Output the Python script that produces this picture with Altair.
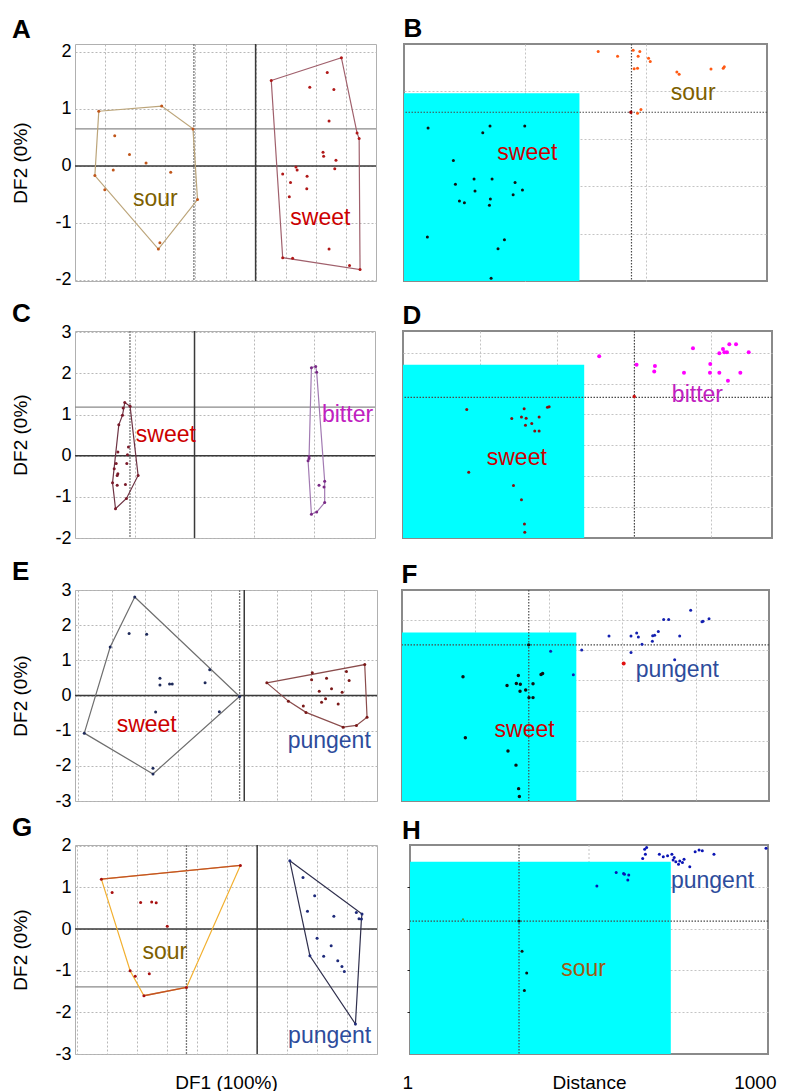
import altair as alt
import pandas as pd

FONT = "Liberation Sans"

# ================= DATA =================
# ---- A : DF1/DF2 plot, sour vs sweet ----
A_sour_hull_x = [-5.21, -3.12, -2.08, -1.93, -3.23, -5.34]
A_sour_hull_y = [0.96, 1.05, 0.65, -0.59, -1.46, -0.17]
A_sour_x = [-4.68, -4.19, -3.64, -4.73, -2.82, -5.01, -3.18]
A_sour_y = [0.53, 0.20, 0.05, -0.07, -0.11, -0.42, -1.35]
A_sweet_hull_x = [0.52, 2.85, 3.37, 3.44, 3.47, 0.90]
A_sweet_hull_y = [1.50, 1.90, 0.58, 0.48, -1.82, -1.61]
A_sweet_x = [2.38, 1.80, 2.60, 2.44, 2.24, 2.26, 2.67, 2.63, 1.34, 1.38, 0.90, 1.71, 1.16, 1.70, 1.12, 2.44, 1.23, 3.12]
A_sweet_y = [1.64, 1.38, 1.34, 0.79, 0.24, 0.17, 0.10, -0.05, -0.02, -0.07, -0.14, -0.18, -0.29, -0.40, -0.54, -1.46, -1.62, -1.75]
A_label_text = ["sour", "sweet"]
A_label_x = [-3.33, 2.15]
A_label_y = [-0.58, -0.92]
A_thr_x, A_thr_y = [-2.05], [0.65]

# ---- C : sweet vs bitter ----
C_sweet_hull_x = [-1.167, -1.078, -0.944, -1.139, -1.322, -1.372, -1.267, -1.206]
C_sweet_hull_y = [1.29, 1.20, -0.48, -1.04, -1.29, -0.66, 0.75, 0.98]
C_sweet_x = [-1.194, -1.283, -1.106, -1.122, -1.311, -1.344, -1.283, -1.294, -1.133, -1.294, -1.156]
C_sweet_y = [1.16, 0.09, 0.21, 0.02, -0.19, -0.32, -0.44, -0.48, -0.19, -0.72, -0.70]
C_bitter_hull_x = [1.956, 2.028, 2.044, 2.178, 2.178, 2.044, 1.956, 1.900, 1.917]
C_bitter_hull_y = [2.14, 2.17, 2.03, -0.62, -1.14, -1.37, -1.42, -0.12, -0.02]
C_bitter_x = [2.083, 2.167, 1.917]
C_bitter_y = [-0.72, -0.76, -0.07]
C_label_text = ["sweet", "bitter"]
C_label_x = [-0.48, 2.56]
C_label_y = [0.51, 0.98]
C_thr_x, C_thr_y = [-1.08], [1.18]

# ---- E : sweet vs pungent ----
E_sweet_hull_x = [-3.30, -0.14, -2.75, -4.82, -4.04]
E_sweet_hull_y = [2.80, -0.03, -2.23, -1.07, 1.38]
E_sweet_x = [-3.47, -2.94, -1.04, -2.54, -2.54, -2.25, -2.17, -1.18, -2.67, -0.75, -2.75]
E_sweet_y = [1.76, 1.74, 0.73, 0.49, 0.30, 0.33, 0.33, 0.36, -0.47, -0.46, -2.07]
E_pung_hull_x = [0.68, 3.63, 3.70, 3.38, 2.98, 1.86, 1.33]
E_pung_hull_y = [0.36, 0.88, -0.62, -0.85, -0.90, -0.48, -0.16]
E_pung_x = [2.05, 2.03, 2.48, 3.08, 3.16, 2.63, 2.26, 2.95, 2.45, 2.33, 2.83, 1.78]
E_pung_y = [0.65, 0.45, 0.49, 0.68, 0.43, 0.19, 0.12, 0.09, -0.09, -0.19, -0.24, -0.30]
E_label_text = ["sweet", "pungent"]
E_label_x = [-2.94, 2.56]
E_label_y = [-0.85, -1.28]
E_thr_x, E_thr_y = [-0.14], []

# ---- G : sour vs pungent ----
G_sour_hull_x = [-5.20, -0.56, -2.36, -3.78, -4.24]
G_sour_hull_y = [1.20, 1.53, -1.40, -1.60, -1.00]
G_sour_x = [-4.84, -3.89, -3.52, -3.37, -3.00, -4.07, -3.60]
G_sour_y = [0.88, 0.64, 0.65, 0.63, 0.07, -1.13, -1.07]
G_pung_hull_x = [1.09, 3.50, 3.48, 3.28, 1.76]
G_pung_hull_y = [1.64, 0.36, 0.24, -2.28, -0.64]
G_pung_x = [1.53, 1.92, 1.68, 2.56, 3.31, 3.40, 2.00, 2.47, 2.22, 2.69, 2.83, 2.91]
G_pung_y = [1.24, 0.80, 0.43, 0.31, 0.40, 0.25, -0.22, -0.40, -0.65, -0.76, -0.90, -1.02]
G_label_text = ["sour", "pungent"]
G_label_x = [-3.08, 2.42]
G_label_y = [-0.56, -2.57]
G_thr_x, G_thr_y = [-2.36], [-1.39]

# ---- B : distance plot, sweet vs sour ----
B_sour_x = [1.605, 1.765, 1.894, 1.949, 1.935, 1.902, 1.930, 2.021, 2.035, 2.255, 2.274, 2.537, 2.638, 2.647, 1.930, 1.958]
B_sour_y = [4.84, 4.74, 4.87, 4.84, 4.74, 4.48, 4.49, 4.70, 4.63, 4.41, 4.36, 4.47, 4.49, 4.52, 3.54, 3.62]
B_ref_x, B_ref_y = [1.875], [3.56]
B_sweet_x = [0.199, 0.711, 0.998, 0.651, 0.408, 0.579, 0.728, 0.918, 0.425, 0.587, 0.979, 0.902, 0.714, 0.458, 0.499, 0.706, 0.193, 0.830, 0.777, 0.720]
B_sweet_y = [3.23, 3.27, 3.27, 3.13, 2.54, 2.15, 2.15, 2.08, 2.04, 1.90, 1.92, 1.82, 1.73, 1.69, 1.65, 1.60, 0.93, 0.87, 0.68, 0.06]
B_cyan = [0.0, 1.45, 0.0, 3.96]
B_label_text = ["sweet", "sour"]
B_label_x = [1.02, 2.39]
B_label_y = [2.70, 3.97]
B_thr_x, B_thr_y = [1.88], [3.56]

# ---- D : sweet vs bitter ----
D_bitter_x = [2.552, 3.038, 3.277, 3.268, 3.772, 4.162, 4.245, 4.332, 4.115, 4.180, 4.214, 4.497, 3.997, 3.655, 3.993, 4.115, 4.388, 4.227]
D_bitter_y = [5.88, 5.61, 5.57, 5.39, 6.14, 6.12, 6.27, 6.27, 5.98, 6.01, 6.01, 6.01, 5.63, 5.35, 5.35, 5.35, 5.35, 5.09]
D_ref_x, D_ref_y = [3.008], [4.58]
D_sweet_x = [0.829, 1.576, 1.879, 1.901, 1.415, 1.541, 1.602, 1.771, 1.675, 1.593, 1.714, 1.771, 0.855, 1.437, 1.541, 1.580, 1.584]
D_sweet_y = [4.16, 4.18, 4.23, 4.25, 3.87, 3.92, 3.88, 3.92, 3.71, 3.65, 3.46, 3.46, 2.13, 1.70, 1.24, 0.45, 0.19]
D_cyan = [0.0, 2.357, 0.0, 5.61]
D_label_text = ["sweet", "bitter"]
D_label_x = [1.48, 3.83]
D_label_y = [2.60, 4.64]
D_thr_x, D_thr_y = [3.01], [4.55]

# ---- F : sweet vs pungent ----
F_pung_x = [2.025, 2.448, 2.334, 2.820, 3.120, 3.197, 3.220, 3.120, 3.270, 3.411, 3.415, 3.442, 3.492, 3.565, 3.633, 3.783, 3.715, 3.933, 4.087, 4.101, 4.183]
F_pung_y = [4.97, 5.01, 4.19, 5.47, 5.47, 5.57, 5.44, 4.93, 5.20, 5.30, 5.48, 5.50, 5.62, 6.02, 6.02, 5.47, 4.69, 6.33, 5.95, 5.96, 6.05]
F_ref_x, F_ref_y = [3.020], [4.56]
F_sweet_x = [1.726, 0.831, 1.585, 1.431, 1.558, 1.612, 1.785, 1.894, 1.916, 1.685, 1.608, 1.730, 1.785, 0.863, 1.444, 1.553, 1.589, 1.599]
F_sweet_y = [5.18, 4.12, 4.16, 3.83, 3.90, 3.87, 3.89, 4.20, 4.23, 3.68, 3.64, 3.43, 3.43, 2.10, 1.66, 1.19, 0.41, 0.15]
F_cyan = [0.0, 2.375, 0.0, 5.59]
F_label_text = ["sweet", "pungent"]
F_label_x = [1.67, 3.75]
F_label_y = [2.36, 4.34]
F_thr_x, F_thr_y = [1.727], [5.18]

# ---- H : sour vs pungent ----
H_pung_x = [1.044, 1.152, 1.193, 1.198, 1.222, 1.217, 1.300, 1.315, 1.322, 1.311, 1.393, 1.415, 1.439, 1.463, 1.476, 1.470, 1.485, 1.500, 1.507, 1.531, 1.522, 1.563, 1.593, 1.615, 1.633, 1.698, 1.989]
H_pung_y = [4.02, 4.34, 4.32, 4.30, 4.28, 4.16, 4.68, 4.78, 4.94, 4.90, 4.78, 4.72, 4.74, 4.78, 4.70, 4.64, 4.60, 4.54, 4.62, 4.66, 4.58, 4.48, 4.84, 4.88, 4.86, 4.78, 4.92]
H_sour_x = [0.609, 0.626, 0.652, 0.639]
H_sour_y = [3.18, 2.46, 1.94, 1.52]
H_extra_x, H_extra_y = [0.296], [3.22]
H_cyan = [0.0, 1.457, 0.0, 4.6]
H_label_text = ["pungent", "sour"]
H_label_x = [1.69, 0.97]
H_label_y = [4.14, 2.04]
H_thr_x, H_thr_y = [0.609], [3.18]
H_xtick_values = [0, 2]
H_xtick_labels = ["1", "1000"]

# ================= helpers =================
def sc(dom):
    return alt.Scale(domain=dom, nice=False, zero=False)


def enc_xy(xdom, ydom, xaxis, yaxis):
    return (alt.X("x:Q", scale=sc(xdom), axis=xaxis),
            alt.Y("y:Q", scale=sc(ydom), axis=yaxis))


def points_layer(xs, ys, color, size, X, Y):
    df = pd.DataFrame({"x": xs, "y": ys})
    return alt.Chart(df).mark_circle(size=size, opacity=1, color=color).encode(x=X, y=Y)


def hull_layers(hx, hy, color, X, Y, edges=None, edge_color=None, width=1.2):
    df = pd.DataFrame({"x": hx + hx[:1], "y": hy + hy[:1], "o": list(range(len(hx) + 1))})
    out = [alt.Chart(df).mark_line(color=color, strokeWidth=width).encode(
        x=X, y=Y, order="o:Q")]
    for a, b in (edges or []):
        sdf = pd.DataFrame({"x": [hx[a], hx[b]], "y": [hy[a], hy[b]], "o": [0, 1]})
        out.append(alt.Chart(sdf).mark_line(color=edge_color, strokeWidth=1.4).encode(
            x=X, y=Y, order="o:Q"))
    return out


def labels_layer(texts, xs, ys, colors, X, Y):
    out = []
    for t, x, y, c in zip(texts, xs, ys, colors):
        df = pd.DataFrame({"x": [x], "y": [y], "t": [t]})
        out.append(alt.Chart(df).mark_text(font=FONT, fontSize=23, color=c).encode(
            x=X, y=Y, text="t:N"))
    return out


def rules(xs, ys, color, dash, width, X, Y):
    out = []
    if xs:
        out.append(alt.Chart(pd.DataFrame({"x": xs})).mark_rule(
            color=color, strokeDash=dash, strokeWidth=width).encode(x=X))
    if ys:
        out.append(alt.Chart(pd.DataFrame({"y": ys})).mark_rule(
            color=color, strokeDash=dash, strokeWidth=width).encode(y=Y))
    return out


def title(letter, dy):
    return alt.TitleParams(text=letter, anchor="start", fontSize=26, font=FONT,
                           fontWeight="bold", color="black", offset=0, dy=dy)


TPAD = 24


def left_panel(letter, xdom, ydom, xgrid, yticks, groups, labels, thr, w, h, tdy,
               xtitle=None):
    xaxis = alt.Axis(values=xgrid, labels=False, ticks=False, tickSize=0, domain=False,
                     grid=True, gridDash=[2, 2], gridColor="#b8b8b8",
                     title=xtitle, titleFont=FONT, titleFontSize=19,
                     titleFontWeight="normal", titleColor="black",
                     titleBaseline="top", titleY=19)
    yaxis = alt.Axis(values=yticks, labelExpr="datum.value + ''", labelFont=FONT,
                     labelFontSize=18, labelColor="black", labelPadding=4,
                     ticks=False, domain=False, grid=True, gridDash=[2, 2],
                     gridColor="#b8b8b8", title="DF2 (0%)", titleFont=FONT,
                     titleFontSize=19, titleFontWeight="normal", titleColor="black",
                     titlePadding=TPAD)
    X, Y = enc_xy(xdom, ydom, xaxis, yaxis)
    layers = []
    layers += rules(thr[0], [], "#7a7a7a", [2, 1], 1.3, X, Y)
    layers += rules([], thr[1], "#8a8a8a", [1, 0], 1.2, X, Y)
    layers += rules([0], [0], "#3a3a3a", [1, 0], 1.5, X, Y)
    for g in groups:
        layers += hull_layers(g["hx"], g["hy"], g["line"], X, Y,
                              g.get("edges"), g.get("edge_color"))
        layers.append(points_layer(g["hx"] + g["px"], g["hy"] + g["py"], g["pt"], 9, X, Y))
    layers += labels_layer(*labels, X, Y)
    return alt.layer(*layers).properties(width=w, height=h, title=title(letter, tdy))


def right_panel(letter, xdom, ydom, xgrid, ygrid, cyan, groups, labels, thr, w, h, tdy,
                xlabels=None, yticks=False):
    if xlabels:
        xaxis = alt.Axis(values=xlabels[0], grid=False, labels=True,
                         labelExpr="datum.value == %s ? '%s' : '%s'" % (
                             xlabels[0][0], xlabels[1][0], xlabels[1][1]),
                         labelFont=FONT, labelFontSize=19, labelColor="black",
                         labelPadding=19, labelFlush=True, labelFlushOffset=8,
                         ticks=False, tickSize=0, domain=False,
                         title="Distance", titleFont=FONT, titleFontSize=19,
                         titleFontWeight="normal", titleColor="black",
                         titleBaseline="top", titleY=19)
    else:
        xaxis = alt.Axis(values=xgrid, labels=False, ticks=False, tickSize=0, domain=False,
                         grid=True, gridDash=[2, 2], gridColor="#c4c4c4", title=None)
    yaxis = alt.Axis(values=ygrid, labels=False, ticks=yticks, tickSize=3 if yticks else 0,
                     tickColor="#222", domain=False, grid=True, gridDash=[2, 2],
                     gridColor="#c4c4c4", title=None)
    X, Y = enc_xy(xdom, ydom, xaxis, yaxis)
    layers = []
    if xlabels:
        layers += [alt.Chart(pd.DataFrame({"x": xgrid})).mark_rule(
            color="#c4c4c4", strokeDash=[2, 2]).encode(x=X)]
    cdf = pd.DataFrame({"x": [cyan[0]], "x2": [cyan[1]], "y": [cyan[2]], "y2": [cyan[3]]})
    layers.append(alt.Chart(cdf).mark_rect(color="#00ffff").encode(
        x=X, x2="x2:Q", y=Y, y2="y2:Q"))
    layers += rules(thr[0], thr[1], "#4a4a4a", [1.5, 1.5], 1.2, X, Y)
    for g in groups:
        layers.append(points_layer(g["x"], g["y"], g["c"], g["s"], X, Y))
    layers += labels_layer(*labels, X, Y)
    return alt.layer(*layers).properties(
        width=w, height=h, title=title(letter, tdy),
        view=alt.ViewBackground(stroke="#8a8a8a", strokeWidth=2))


SWEET_T = "#cc0000"
SOUR_T = "#7d6000"
BITTER_T = "#c020c0"
PUNG_T = "#2d4c9c"

# ================= panels =================
pA = left_panel("A", [-6, 4], [-2.02, 2.14], list(range(-5, 4)), [-2, -1, 0, 1, 2],
                [dict(hx=A_sour_hull_x, hy=A_sour_hull_y, px=A_sour_x, py=A_sour_y,
                      line="#bca57a", pt="#c0561a"),
                 dict(hx=A_sweet_hull_x, hy=A_sweet_hull_y, px=A_sweet_x, py=A_sweet_y,
                      line="#a0606c", pt="#b01818")],
                (A_label_text, A_label_x, A_label_y, [SOUR_T, SWEET_T]),
                (A_thr_x, A_thr_y), 301, 237, 0)
pB = right_panel("B", [0, 3], [0, 5], [1, 2], [1, 2, 3, 4], B_cyan,
                 [dict(x=B_sweet_x, y=B_sweet_y, c="#111111", s=9),
                  dict(x=B_sour_x, y=B_sour_y, c="#ff5a14", s=9),
                  dict(x=B_ref_x, y=B_ref_y, c="#a00000", s=12)],
                 (B_label_text, B_label_x, B_label_y, [SWEET_T, SOUR_T]),
                 (B_thr_x, B_thr_y), 363, 237, -1)

pC = left_panel("C", [-2, 3.02], [-2, 3.03], [-1, 1, 2], [-2, -1, 0, 1, 2, 3],
                [dict(hx=C_sweet_hull_x, hy=C_sweet_hull_y, px=C_sweet_x, py=C_sweet_y,
                      line="#6e3444", pt="#7a1a2a"),
                 dict(hx=C_bitter_hull_x, hy=C_bitter_hull_y, px=C_bitter_x, py=C_bitter_y,
                      line="#a27ab2", pt="#7a2a86")],
                (C_label_text, C_label_x, C_label_y, [SWEET_T, BITTER_T]),
                (C_thr_x, C_thr_y), 300, 207, 4)
pD = right_panel("D", [0, 4.8], [0, 6.7], [1, 2, 3, 4], [1, 2, 3, 4, 5, 6], D_cyan,
                 [dict(x=D_sweet_x, y=D_sweet_y, c="#8a1010", s=9),
                  dict(x=D_bitter_x, y=D_bitter_y, c="#ff00ff", s=16),
                  dict(x=D_ref_x, y=D_ref_y, c="#cc1010", s=12)],
                 (D_label_text, D_label_x, D_label_y, [SWEET_T, BITTER_T]),
                 (D_thr_x, D_thr_y), 369, 207, -1)

pE = left_panel("E", [-5.1, 4], [-3, 3], list(range(-5, 4)), [-3, -2, -1, 0, 1, 2, 3],
                [dict(hx=E_sweet_hull_x, hy=E_sweet_hull_y, px=E_sweet_x, py=E_sweet_y,
                      line="#6e6e6e", pt="#1e2a5a"),
                 dict(hx=E_pung_hull_x, hy=E_pung_hull_y, px=E_pung_x, py=E_pung_y,
                      line="#8a4c4c", pt="#7a1818")],
                (E_label_text, E_label_x, E_label_y, [SWEET_T, PUNG_T]),
                (E_thr_x, E_thr_y), 302, 211, 4)
pF = right_panel("F", [0, 5], [0, 7], [1, 2, 3, 4], [1, 2, 3, 4, 5, 6], F_cyan,
                 [dict(x=F_sweet_x, y=F_sweet_y, c="#111111", s=12),
                  dict(x=F_pung_x, y=F_pung_y, c="#1420b0", s=9),
                  dict(x=F_ref_x, y=F_ref_y, c="#e01010", s=16)],
                 (F_label_text, F_label_x, F_label_y, [SWEET_T, PUNG_T]),
                 (F_thr_x, F_thr_y), 367, 211, -1)

pG = left_panel("G", [-6.08, 4], [-3, 2.02], list(range(-6, 4)), [-3, -2, -1, 0, 1, 2],
                [dict(hx=G_sour_hull_x, hy=G_sour_hull_y, px=G_sour_x, py=G_sour_y,
                      line="#f2b030", pt="#a81010", edges=[(0, 1), (2, 3)],
                      edge_color="#c0502a"),
                 dict(hx=G_pung_hull_x, hy=G_pung_hull_y, px=G_pung_x, py=G_pung_y,
                      line="#30304e", pt="#1e2a7a")],
                (G_label_text, G_label_x, G_label_y, [SOUR_T, PUNG_T]),
                (G_thr_x, G_thr_y), 302, 209, 4, xtitle="DF1 (100%)")
pH = right_panel("H", [0, 2], [0, 5], [1], [1, 2, 3, 4], H_cyan,
                 [dict(x=H_pung_x, y=H_pung_y, c="#0a14b4", s=9),
                  dict(x=H_sour_x, y=H_sour_y, c="#111111", s=9),
                  dict(x=H_extra_x, y=H_extra_y, c="#3aa03a", s=5)],
                 (H_label_text, H_label_x, H_label_y, [PUNG_T, "#a05a10"]),
                 (H_thr_x, H_thr_y), 358, 209, 0,
                 xlabels=(H_xtick_values, H_xtick_labels), yticks=True)

row1 = alt.hconcat(pA, pB, spacing=24)
row2 = alt.hconcat(pC, pD, spacing=24)
row3 = alt.hconcat(pE, pF, spacing=21)
row4 = alt.hconcat(pG, pH, spacing=22)

chart = alt.vconcat(
    alt.vconcat(row1, row2, spacing=10),
    alt.vconcat(row3, row4, spacing=3),
    spacing=10,
).properties(
    padding={"left": 11, "top": 15, "right": 5, "bottom": 0},
    background="white",
).configure_view(stroke="#b0b0b0", strokeWidth=1)

chart.save("out.html", embed_options={"renderer": "svg", "actions": False})
